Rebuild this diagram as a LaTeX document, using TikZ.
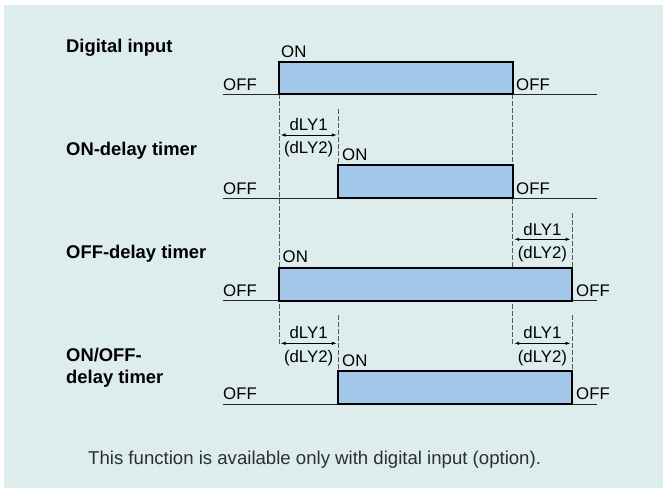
\documentclass[tikz,border=0pt]{standalone}
\usepackage{fontspec}
\setmainfont{Liberation Sans}
\usetikzlibrary{arrows.meta}
\definecolor{panel}{HTML}{DDECEC}
\definecolor{pulsefill}{HTML}{A4C8EA}
\definecolor{footgray}{HTML}{2E2E2E}
\tikzset{
  lbl/.style={font=\fontsize{16.8}{18}\selectfont, inner sep=0pt, anchor=base west},
  dlbl/.style={font=\fontsize{16.8}{18}\selectfont, inner sep=0pt, anchor=base},
  ttl/.style={font=\fontsize{18.4}{21.7}\selectfont\bfseries, inner sep=0pt, anchor=base west},
  foot/.style={font=\fontsize{18.6}{21}\selectfont, text=footgray, inner sep=0pt, anchor=base west},
  pulse/.style={draw=black, line width=2.3pt, fill=pulsefill},
  baseln/.style={draw=black!85, line width=1pt},
  guide/.style={draw=black!65, line width=0.8pt, dash pattern=on 4.5pt off 2.5pt},
  dly/.style={{Latex[length=5pt,width=3.4pt]}-{Latex[length=5pt,width=3.4pt]}, line width=0.8pt},
}
\begin{document}
\begin{tikzpicture}[x=1pt,y=-1pt]
\useasboundingbox (0,0) rectangle (663,488);
\fill[panel] (4,5) rectangle (663,488);

% coordinates
\coordinate (b1l) at (222.7,94.3);  \coordinate (b1r) at (597,94.3);
\coordinate (b2l) at (222.7,198.3); \coordinate (b2r) at (597,198.3);
\coordinate (b3l) at (222.7,300.7); \coordinate (b3r) at (597,300.7);
\coordinate (b4l) at (222.7,404.3); \coordinate (b4r) at (597,404.3);

\coordinate (gAt) at (279,94.3);   \coordinate (gAb) at (279,345);
\coordinate (gBt) at (512.7,94.3); \coordinate (gBb) at (512.7,345);
\coordinate (gCt) at (338.3,109);  \coordinate (gCb) at (338.3,165);
\coordinate (gDt) at (338.3,315);  \coordinate (gDb) at (338.3,371);
\coordinate (gEt) at (572,213);    \coordinate (gEb) at (572,268.3);
\coordinate (gFt) at (572,315);    \coordinate (gFb) at (572,371);

\coordinate (a2l) at (280.5,135);   \coordinate (a2r) at (336.8,135);
\coordinate (a3l) at (514.2,239.3); \coordinate (a3r) at (570.5,239.3);
\coordinate (a4l) at (280.5,343.3); \coordinate (a4r) at (336.8,343.3);
\coordinate (a5l) at (514.2,343.3); \coordinate (a5r) at (570.5,343.3);

% base lines
\draw[baseln] (b1l) -- (b1r);
\draw[baseln] (b2l) -- (b2r);
\draw[baseln] (b3l) -- (b3r);
\draw[baseln] (b4l) -- (b4r);

% guides
\draw[guide] (gAt) -- (gAb);
\draw[guide] (gBt) -- (gBb);
\draw[guide] (gCt) -- (gCb);
\draw[guide] (gDt) -- (gDb);
\draw[guide] (gEt) -- (gEb);
\draw[guide] (gFt) -- (gFb);

% pulses
\draw[pulse] (279,94.3) rectangle (512.7,62);
\draw[pulse] (338.3,198.3) rectangle (512.7,165);
\draw[pulse] (279,300.7) rectangle (572,268.3);
\draw[pulse] (338.3,404.3) rectangle (572,371);

% delay arrows
\draw[dly] (a2l) -- (a2r);
\draw[dly] (a3l) -- (a3r);
\draw[dly] (a4l) -- (a4r);
\draw[dly] (a5l) -- (a5r);

% titles
\node[ttl] (t1) at (66,52.7) {Digital input};
\node[ttl] (t2) at (66,155) {ON-delay timer};
\node[ttl] (t3) at (66,258) {OFF-delay timer};
\node[ttl] (t4a) at (66,361.7) {ON/OFF-};
\node[ttl] (t4b) at (66,383.3) {delay timer};

% row 1 labels
\node[lbl] (r1off1) at (223,90) {OFF};
\node[lbl] (r1on) at (281,57) {ON};
\node[lbl] (r1off2) at (516,90) {OFF};

% row 2 labels
\node[lbl] (r2off1) at (223,194) {OFF};
\node[lbl] (r2on) at (342,160) {ON};
\node[lbl] (r2off2) at (516,194) {OFF};
\node[dlbl] (r2d1) at (308.6,130) {dLY1};
\node[dlbl] (r2d2) at (308.6,153.5) {(dLY2)};

% row 3 labels
\node[lbl] (r3off1) at (223,296.2) {OFF};
\node[lbl] (r3on) at (282.5,262.7) {ON};
\node[lbl] (r3off2) at (576,296.2) {OFF};
\node[dlbl] (r3d1) at (542.4,235) {dLY1};
\node[dlbl] (r3d2) at (542.4,258.5) {(dLY2)};

% row 4 labels
\node[lbl] (r4off1) at (223,399.6) {OFF};
\node[lbl] (r4on) at (342,366) {ON};
\node[lbl] (r4off2) at (576,399.6) {OFF};
\node[dlbl] (r4d1) at (308.6,338.6) {dLY1};
\node[dlbl] (r4d2) at (308.6,362) {(dLY2)};
\node[dlbl] (r4d3) at (542.4,338.6) {dLY1};
\node[dlbl] (r4d4) at (542.4,362) {(dLY2)};

% footer
\node[foot] (ft) at (88,464) {This function is available only with digital input (option).};
\end{tikzpicture}
\end{document}
